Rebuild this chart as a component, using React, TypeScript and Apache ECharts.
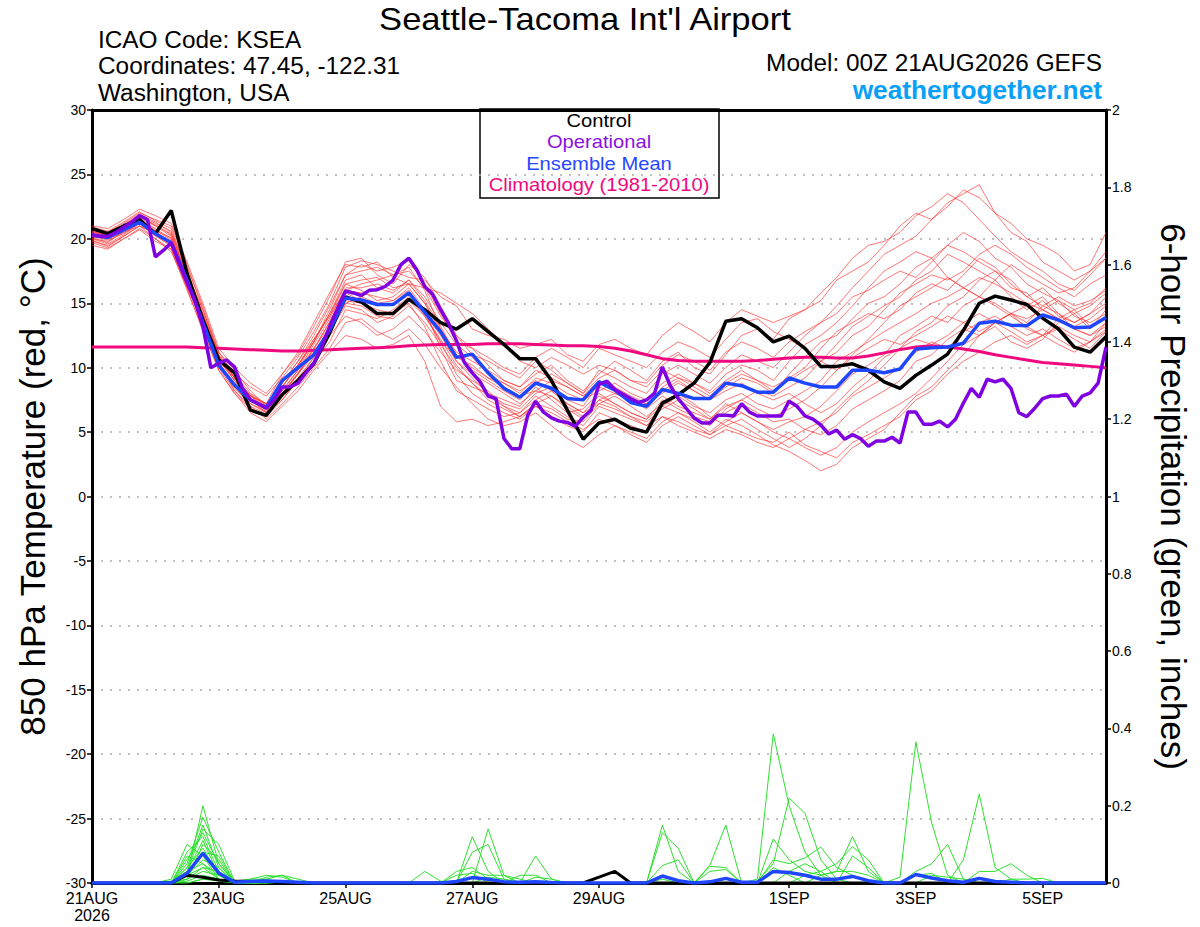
import React, { useEffect, useRef } from "react";
import * as echarts from "echarts";

// ---------- tick labels ----------
const X_TICK_HOURS = [0, 48, 96, 144, 192, 264, 312, 360];
const X_TICK_LABELS = ["21AUG\n2026", "23AUG", "25AUG", "27AUG", "29AUG", "1SEP", "3SEP", "5SEP"];

// ---------- time grid (hours after 00Z 21AUG) ----------
const STEP_HOURS = 6;
const OP_STEP_HOURS = 3;

// ---------- control (black) 850 hPa temperature ----------
const CONTROL = [
  20.8, 20.4, 21.0, 21.5, 20.4, 22.2, 17.3, 13.7, 10.6, 9.6, 6.7, 6.3, 7.9, 9.0, 10.3, 12.7, 15.5,
  15.1, 14.2, 14.2, 15.3, 14.5, 13.5, 13.0, 13.8, 12.8, 11.8, 10.7, 10.7, 9.0, 6.7, 4.45, 5.7,
  6.0, 5.3, 5.0, 7.25, 7.9, 8.8, 10.4, 13.6, 13.8, 13.1, 12.0, 12.45, 11.5, 10.1, 10.1, 10.3,
  9.8, 8.9, 8.4, 9.4, 10.2, 11.05, 12.9, 15.0, 15.55, 15.25, 14.9, 13.85, 13.0, 11.6, 11.2, 12.4,
];

// ---------- ensemble mean (blue) ----------
const ENS_MEAN = [
  20.3, 20.1, 20.7, 21.3, 20.4, 19.7, 16.8, 13.5, 10.2, 8.65, 7.5, 6.9, 9.0, 10.0, 11.0, 12.9, 15.4,
  15.25, 14.9, 14.9, 15.8, 14.3, 12.8, 10.8, 11.05, 9.6, 8.4, 7.7, 8.8, 8.4, 7.6, 7.5, 8.9,
  8.25, 7.3, 7.0, 8.3, 8.0, 7.6, 7.6, 8.8, 8.6, 8.1, 8.1, 9.2, 8.8, 8.5, 8.5, 9.8,
  9.8, 9.6, 9.9, 11.45, 11.55, 11.6, 11.9, 13.45, 13.6, 13.3, 13.25, 14.1, 13.7, 13.1, 13.15, 13.9,
];

// ---------- climatology 1981-2010 (pink) ----------
const CLIMO = [
  11.6, 11.6, 11.6, 11.6, 11.6, 11.6, 11.6, 11.55, 11.5, 11.45, 11.4, 11.35, 11.3, 11.3, 11.35, 11.4, 11.45,
  11.5, 11.55, 11.6, 11.7, 11.75, 11.8, 11.8, 11.8, 11.85, 11.85, 11.85, 11.8, 11.75, 11.7, 11.7, 11.65,
  11.5, 11.3, 11.0, 10.7, 10.55, 10.5, 10.5, 10.5, 10.5, 10.55, 10.65, 10.75, 10.8, 10.8, 10.75, 10.75,
  10.9, 11.15, 11.4, 11.6, 11.7, 11.6, 11.45, 11.25, 11.0, 10.8, 10.6, 10.4, 10.3, 10.2, 10.1, 10.0,
];

// ---------- operational GFS (purple), 3-hourly ----------
const OPERATIONAL = [
  20.3, 20.2, 20.2, 20.5, 20.9, 21.3, 21.8, 21.5, 18.6, 19.1, 19.7, 18.1, 16.6, 15.2, 13.2, 10.0,
  10.35, 10.6, 10.05, 8.4, 7.5, 7.2, 6.85, 7.5, 8.5, 8.5, 8.8, 9.6, 10.35, 11.6, 13.2, 14.6,
  15.95, 15.8, 15.6, 16.0, 16.05, 16.3, 16.8, 18.0, 18.5, 17.6, 16.3, 15.7, 14.5, 13.45, 12.1, 10.4,
  9.6, 8.9, 7.8, 7.6, 4.5, 3.7, 3.7, 6.3, 7.4, 6.55, 6.1, 5.85, 5.75, 5.45, 6.15, 6.7,
  8.7, 8.95, 8.3, 7.95, 7.6, 7.3, 7.5, 8.0, 10.05, 8.6, 7.6, 6.85, 6.1, 5.7, 5.7, 6.3,
  6.3, 6.25, 7.2, 6.55, 6.25, 6.25, 6.25, 6.25, 7.4, 7.0, 6.25, 6.0, 5.55, 4.85, 5.15, 4.45,
  4.8, 4.5, 3.9, 4.3, 4.3, 4.6, 4.15, 6.55, 6.55, 5.6, 5.6, 5.85, 5.4, 6.0, 7.25, 8.4,
  7.7, 9.1, 8.9, 9.1, 8.4, 6.5, 6.2, 6.85, 7.6, 7.8, 7.8, 7.95, 7.0, 7.8, 8.05, 8.8,
  11.6,
];

// ---------- ensemble members (red) ----------
const M01 = [20.5,20.3,21.0,21.8,21.2,20.6,17.5,14.0,10.8,9.2,7.8,7.2,8.5,10.2,12.0,14.5,17.2,
  18.0,17.5,17.8,18.3,16.5,14.2,12.0,11.5,10.2,9.0,8.5,9.5,10.2,9.0,8.2,9.5,
  10.5,9.8,9.0,10.5,11.2,10.0,9.5,11.0,12.5,13.0,12.2,13.8,14.5,15.2,16.8,17.5,
  18.2,19.5,21.0,22.0,21.5,22.8,23.5,24.2,22.0,20.5,19.8,18.2,17.5,16.8,17.5,19.0];
const M02 = [20.0,19.8,20.5,21.0,20.0,19.2,16.0,13.0,9.8,8.0,6.8,6.2,7.5,9.0,10.5,12.0,14.5,
  14.2,13.8,14.5,15.5,14.0,12.0,9.5,8.0,7.2,6.5,6.0,7.0,6.2,5.5,5.0,6.5,
  6.0,5.5,5.0,6.2,5.8,5.2,4.8,5.5,5.0,4.5,4.2,5.0,4.0,3.5,3.0,4.2,
  4.8,5.5,6.2,7.5,8.2,9.5,10.5,11.2,12.0,12.5,11.8,12.5,13.0,12.2,11.5,12.8];
const M03 = [20.8,20.5,21.2,22.0,21.5,21.0,18.0,14.5,11.2,9.8,8.2,7.0,8.0,9.5,11.5,13.5,16.0,
  16.5,16.8,17.2,17.8,16.0,13.0,11.0,10.0,9.2,8.5,7.8,8.2,9.0,8.5,7.8,8.5,
  8.0,7.5,7.2,8.0,8.8,8.2,7.5,8.5,9.2,8.8,8.0,9.5,10.8,12.0,12.5,13.8,
  15.0,15.5,16.5,17.8,18.5,17.0,16.2,15.5,16.8,15.5,14.5,15.2,14.0,13.5,14.2,15.5];
const M04 = [19.8,19.5,20.2,21.0,20.5,19.8,17.0,13.8,10.5,8.5,7.2,6.5,7.8,9.5,11.2,13.0,15.0,
  15.5,15.0,15.2,16.2,14.5,11.5,9.0,8.5,8.0,7.5,7.0,8.5,7.5,6.5,6.8,8.0,
  7.2,6.5,6.0,7.5,6.8,6.2,5.8,6.5,7.2,6.5,5.8,6.0,5.2,4.8,5.5,6.8,
  7.5,8.2,9.0,10.5,11.0,12.2,13.0,12.5,13.5,14.2,13.0,12.5,13.8,14.5,13.2,14.0];
const M05 = [20.6,20.2,21.0,21.5,20.8,20.0,17.2,14.2,11.0,9.5,8.5,7.8,9.2,10.8,12.8,15.0,17.8,
  18.3,18.0,17.5,17.0,16.8,15.5,14.8,13.0,12.5,12.2,11.5,11.8,12.2,11.0,10.5,11.8,
  12.2,11.5,11.0,12.5,13.5,12.8,12.0,13.5,14.5,14.0,13.5,14.0,14.5,15.8,17.0,18.5,
  19.5,19.8,20.5,21.8,22.5,23.5,22.8,21.5,20.2,19.0,18.2,17.5,16.5,16.0,17.2,18.5];
const M06 = [20.2,20.0,20.5,21.2,20.2,19.5,16.5,13.2,10.0,8.2,7.0,6.0,7.2,8.5,10.0,11.5,13.5,
  13.8,12.8,12.2,13.0,11.8,10.0,8.5,7.2,6.0,5.5,5.8,6.5,5.5,4.5,3.8,4.8,
  5.5,5.0,4.5,5.8,6.5,5.8,5.0,6.0,5.5,4.8,4.0,3.5,2.8,2.0,2.5,3.8,
  4.5,5.2,6.5,7.8,8.5,9.8,11.0,12.5,13.5,14.2,14.8,15.5,14.2,13.0,12.5,13.5];
const M07 = [21.0,20.8,21.5,22.3,21.8,21.2,18.2,15.0,11.5,10.0,8.8,8.0,9.5,11.0,13.2,15.5,18.2,
  18.5,17.2,16.5,18.0,17.0,14.8,12.5,11.0,10.5,9.8,9.2,10.5,9.8,8.8,8.0,9.8,
  9.2,8.5,8.0,9.5,10.2,9.5,8.8,10.0,11.0,10.5,10.0,11.2,12.5,13.5,14.8,16.2,
  17.5,18.8,19.5,20.2,21.5,22.5,23.8,23.2,22.0,21.2,20.0,19.5,18.8,17.5,18.0,20.5];
const M08 = [19.5,19.2,20.0,20.8,20.0,19.0,16.2,13.5,10.8,9.0,7.5,6.8,8.2,9.8,11.5,13.2,15.2,
  15.0,14.5,14.2,15.0,13.2,10.5,8.2,7.5,6.8,6.2,6.5,7.8,7.0,6.2,5.5,7.0,
  6.5,6.0,5.5,7.0,7.8,7.0,6.5,7.5,8.0,7.2,6.8,7.5,8.2,9.0,10.5,11.2,
  12.0,12.8,13.5,14.2,15.0,15.5,16.2,17.0,16.5,15.8,15.0,14.5,13.8,13.0,12.5,13.2];
const M09 = [20.4,20.0,20.8,21.6,21.0,20.2,17.0,13.5,10.2,8.8,7.5,6.5,8.8,10.5,12.2,14.0,16.5,
  16.0,15.2,15.5,16.5,15.0,12.8,10.5,9.2,8.0,7.2,6.8,8.0,8.5,7.5,7.0,8.8,
  8.2,7.5,6.8,7.8,7.0,6.5,6.0,7.2,6.5,5.8,5.2,5.8,6.2,7.0,8.2,9.5,
  10.2,11.0,12.5,13.2,14.0,13.5,14.8,15.5,15.0,14.2,13.5,14.8,15.5,14.8,15.2,16.0];
const M10 = [20.0,19.6,20.3,21.2,20.6,19.6,16.8,13.8,10.5,8.2,6.8,6.2,7.8,9.2,10.8,12.5,14.0,
  13.5,12.5,13.0,14.0,12.8,11.2,9.8,9.0,8.2,7.0,6.2,7.2,7.8,7.0,6.2,7.5,
  7.0,6.2,5.5,6.2,5.5,5.0,4.5,5.2,4.8,4.2,3.8,4.5,5.2,5.8,6.5,7.8,
  8.5,9.2,10.0,11.2,12.0,11.5,12.8,13.5,14.0,13.2,12.5,13.0,12.2,11.5,12.0,13.0];
const M11 = [20.7,20.4,21.0,21.8,21.0,20.4,17.8,14.8,11.2,9.5,8.0,7.2,9.5,11.2,13.5,15.8,18.0,
  17.8,18.2,17.0,16.5,16.2,15.8,15.0,14.2,13.0,11.8,10.5,10.0,10.8,10.2,9.5,10.2,
  9.8,9.0,8.5,9.8,9.2,8.8,8.2,9.5,10.2,9.8,9.0,10.5,11.8,12.5,13.5,14.8,
  16.2,17.5,18.2,19.0,18.5,19.5,20.5,19.8,18.5,17.8,16.5,15.8,15.2,14.5,15.0,16.2];
const M12 = [20.1,19.7,20.6,21.4,20.3,19.4,16.2,12.8,9.8,8.0,6.5,5.8,7.0,8.2,9.8,11.2,12.5,
  12.2,11.5,11.8,12.5,10.5,7.0,5.8,6.0,5.5,5.8,6.2,7.0,6.5,5.8,5.2,6.0,
  5.5,4.8,4.2,5.5,6.2,5.5,4.8,5.8,6.5,5.8,5.0,4.5,3.8,3.2,3.8,5.0,
  5.8,6.5,7.2,8.0,9.2,10.5,11.8,12.5,13.2,12.0,11.5,12.2,13.5,14.2,13.0,14.5];
const M13 = [20.9,20.6,21.3,22.1,21.4,20.8,17.6,14.2,10.9,9.2,7.8,7.0,8.5,10.0,12.0,14.2,16.8,
  17.2,16.2,15.8,16.8,15.5,13.5,11.8,10.8,9.5,8.8,8.0,9.2,8.8,8.0,7.5,8.2,
  8.8,8.0,7.5,8.8,9.5,8.8,8.0,9.0,9.8,9.0,8.5,9.2,10.0,11.5,12.8,13.5,
  14.2,13.8,14.5,15.8,16.5,16.0,17.2,18.5,17.8,16.5,15.5,16.2,15.0,14.2,14.8,15.8];
const M14 = [19.9,19.4,20.2,21.0,20.4,19.7,16.8,13.6,10.4,8.6,7.0,6.4,7.5,9.0,10.8,12.8,15.0,
  14.8,14.0,13.8,14.8,13.5,11.8,10.0,8.8,7.8,7.0,6.5,7.5,8.2,7.2,6.5,7.2,
  7.8,7.0,6.2,7.2,8.0,7.2,6.2,5.5,6.0,5.2,4.5,3.8,4.5,5.5,6.8,8.0,
  9.0,10.2,11.5,12.8,13.5,14.8,15.5,16.8,17.5,16.2,15.8,14.5,13.8,13.2,13.8,14.8];
const M15 = [20.3,20.1,20.9,21.7,21.1,20.3,17.4,14.0,10.6,9.0,7.8,6.8,8.2,9.8,11.8,13.8,16.2,
  16.2,16.5,16.0,16.8,15.2,13.2,11.0,9.8,9.0,8.2,7.5,8.8,9.5,8.8,8.0,9.2,
  9.8,9.0,8.8,10.2,11.0,10.5,9.8,11.2,12.0,11.5,10.8,12.0,12.8,13.5,14.2,15.5,
  16.0,16.8,17.5,17.0,18.2,19.5,19.0,18.2,17.5,16.8,15.5,14.8,14.2,13.5,14.2,15.0];
const M16 = [20.5,20.2,20.7,21.5,20.7,19.9,16.6,13.2,10.2,8.4,7.2,6.6,8.0,9.5,11.0,12.8,14.8,
  14.5,13.5,14.0,15.2,14.0,12.2,10.2,8.8,7.5,6.8,6.2,7.2,6.8,6.0,5.8,7.2,
  6.8,6.2,5.8,6.8,7.5,6.8,6.0,7.0,7.5,6.8,6.2,6.8,7.5,8.5,9.8,10.8,
  11.5,12.2,11.8,12.5,13.2,14.0,13.5,12.8,13.5,14.2,13.8,14.5,15.2,14.0,13.5,14.2];
const M17 = [20.2,19.9,20.4,21.3,20.5,19.8,17.2,14.5,11.0,9.2,7.8,7.2,8.8,10.2,12.2,14.0,16.0,
  15.8,15.5,15.2,16.0,14.2,12.0,10.8,10.2,9.2,8.8,8.2,9.0,8.2,7.2,6.5,7.8,
  7.2,6.5,6.0,7.0,6.5,6.0,5.5,6.8,7.5,8.2,7.8,8.5,9.2,10.5,11.8,13.2,
  14.0,14.8,15.5,16.8,17.5,18.8,18.2,17.5,16.8,18.0,17.2,16.5,15.8,16.2,17.5,18.5];
const M18 = [20.6,20.3,21.1,21.9,21.3,20.5,17.0,13.8,10.6,9.0,7.6,6.9,8.5,10.2,12.0,14.2,16.5,
  16.8,17.0,16.2,16.5,15.0,13.0,11.2,10.5,9.8,9.0,8.5,9.8,9.2,8.5,7.8,9.0,
  8.5,7.8,7.2,8.2,9.0,8.2,7.5,8.2,8.8,8.0,7.5,8.0,7.2,6.5,7.2,8.5,
  9.5,10.8,11.5,12.2,11.8,12.5,13.5,14.2,13.5,12.8,12.0,12.5,13.2,12.5,12.0,12.8];
const M19 = [19.7,19.3,20.0,20.7,19.8,19.2,16.4,13.4,10.3,8.7,7.4,6.7,8.0,9.6,11.4,13.6,15.8,
  15.2,14.8,15.0,15.8,14.2,12.5,10.5,9.5,8.8,8.0,7.2,8.2,7.8,6.8,6.0,7.5,
  8.0,7.5,7.0,8.5,9.2,8.5,7.8,8.8,9.5,9.0,8.2,9.0,9.8,10.5,11.2,12.5,
  13.2,14.5,15.8,16.5,17.2,16.8,17.5,18.8,19.5,18.8,17.8,17.0,16.2,15.5,16.5,17.2];
const M20 = [20.4,20.0,20.6,21.4,20.6,20.1,17.2,14.0,10.8,9.2,7.9,7.1,8.8,10.5,12.5,14.8,17.2,
  17.5,17.8,17.2,17.5,16.2,14.0,12.5,11.5,10.8,10.0,9.5,10.8,11.5,10.8,10.0,11.5,
  11.0,10.5,10.0,11.2,12.0,11.5,10.8,12.2,13.5,13.8,12.8,12.2,11.5,10.5,9.8,11.0,
  12.2,13.5,14.8,15.5,16.2,17.0,16.2,15.5,14.8,14.0,13.2,12.5,11.8,11.2,12.0,13.5];
const TEMP_MEMBERS = [M01,M02,M03,M04,M05,M06,M07,M08,M09,M10,M11,M12,M13,M14,M15,M16,M17,M18,M19,M20];

// ---------- 6-hour precipitation, inches: [hour, value]; every other 6-h step reads 0 ----------
const P01 = [[36,0.02],[42,0.2],[48,0.05],[144,0.12],[150,0.03],[240,0.01],[318,0.02],[324,0.015],[330,0.01]];
const P02 = [[36,0.05],[42,0.17],[48,0.08],[150,0.14],[156,0.02],[252,0.01],[258,0.386],[264,0.2],[270,0.08],[276,0.02]];
const P03 = [[30,0.005],[36,0.03],[42,0.14],[48,0.1],[54,0.005],[60,0.01],[66,0.02],[72,0.015],[144,0.08],[150,0.1],[156,0.01],[252,0.005],[258,0.05],[264,0.22],[270,0.18],[276,0.06],[282,0.01]];
const P04 = [[36,0.08],[42,0.12],[48,0.03],[126,0.03],[132,0.005],[216,0.01]];
const P05 = [[36,0.01],[42,0.1],[48,0.06],[138,0.03],[144,0.04],[150,0.01],[258,0.114],[264,0.06],[270,0.03],[276,0.02],[282,0.03],[288,0.12],[294,0.03]];
const P06 = [[36,0.04],[42,0.09],[48,0.02],[168,0.07],[174,0.01],[258,0.06],[264,0.05],[270,0.065],[276,0.093],[282,0.04],[288,0.02]];
const P07 = [[30,0.01],[36,0.1],[42,0.07],[48,0.01],[66,0.015],[72,0.02],[78,0.01],[144,0.03],[150,0.02],[156,0.02],[162,0.01],[264,0.03],[270,0.05],[276,0.03],[282,0.05],[288,0.094],[294,0.06]];
const P08 = [[36,0.02],[42,0.06],[48,0.04],[60,0.01],[66,0.01],[162,0.02],[168,0.02],[306,0.015],[312,0.365],[318,0.155],[324,0.02]];
const P09 = [[36,0.03],[42,0.05],[48,0.02],[138,0.02],[144,0.025],[258,0.04],[264,0.02],[288,0.07],[294,0.04]];
const P10 = [[36,0.01],[42,0.04],[48,0.01],[216,0.15],[222,0.03],[312,0.03],[318,0.05],[324,0.1],[330,0.01]];
const P11 = [[36,0.06],[42,0.13],[48,0.05],[54,0.005],[216,0.13],[222,0.09]];
const P12 = [[36,0.02],[42,0.08],[48,0.07],[66,0.01],[72,0.02],[276,0.02],[282,0.03],[288,0.03],[294,0.02]];
const P13 = [[36,0.01],[42,0.03],[48,0.02],[150,0.015],[156,0.01],[270,0.02],[276,0.03]];
const P14 = [[36,0.005],[42,0.02],[48,0.01],[168,0.015],[174,0.01],[330,0.06],[336,0.23],[342,0.04],[348,0.01]];
const P15 = [[36,0.03],[42,0.11],[48,0.02],[216,0.045],[222,0.06]];
const P16 = [[42,0.01],[48,0.005],[234,0.046],[240,0.15]];
const P17 = [[36,0.07],[42,0.05],[48,0.01],[234,0.043],[240,0.04]];
const P18 = [[36,0.02],[42,0.04],[48,0.03],[234,0.03],[240,0.035]];
const P19 = [[36,0.04],[42,0.15],[48,0.04],[312,0.02],[318,0.025],[336,0.03],[342,0.03],[348,0.05],[354,0.02]];
const P20 = [[42,0.01],[48,0.01],[348,0.01],[354,0.01],[360,0.012]];
const PRECIP_MEMBERS = [P01,P02,P03,P04,P05,P06,P07,P08,P09,P10,P11,P12,P13,P14,P15,P16,P17,P18,P19,P20];

const PRECIP_MEAN = [[36,0.025],[42,0.077],[48,0.026],[54,0.002],[60,0.004],[66,0.005],[72,0.004],[78,0.002],
  [138,0.004],[144,0.014],[150,0.01],[156,0.003],[162,0.002],[168,0.003],[174,0.001],
  [216,0.018],[222,0.006],[234,0.003],[240,0.012],[246,0.002],[252,0.002],[258,0.03],[264,0.027],[270,0.02],
  [276,0.01],[282,0.01],[288,0.017],[294,0.006],[312,0.022],[318,0.013],[324,0.006],[330,0.002],[336,0.012],[342,0.004],[348,0.002]];
const PRECIP_CONTROL = [[36,0.02],[42,0.015],[48,0.008],[54,0.005],[60,0.004],[66,0.003],[192,0.015],[198,0.03]];

const FONT = "'Liberation Sans', Arial, Helvetica, sans-serif";

function toPairs(vals: number[], step: number) {
  return vals.map((v, i) => [i * step, v]);
}
function precipPairs(events: number[][]) {
  const n = Math.round(384 / STEP_HOURS) + 1;
  const out: number[][] = [];
  for (let i = 0; i < n; i++) {
    const h = i * STEP_HOURS;
    const e = events.find((p) => p[0] === h);
    out.push([h, e ? e[1] : 0]);
  }
  return out;
}

export default function App() {
  const ref = useRef<HTMLDivElement>(null);
  useEffect(() => {
    document.body.style.margin = "0";
    if (!ref.current) return;
    const chart = echarts.init(ref.current, undefined, { renderer: "svg" });

    const series: any[] = [];
    PRECIP_MEMBERS.forEach((p, k) => {
      series.push({
        name: "precip" + (k + 1), type: "line", yAxisIndex: 1, data: precipPairs(p),
        showSymbol: false, symbol: "none", silent: true,
        lineStyle: { color: "#2ee02e", width: 1 },
      });
    });
    TEMP_MEMBERS.forEach((m, k) => {
      series.push({
        name: "member" + (k + 1), type: "line", yAxisIndex: 0, data: toPairs(m, STEP_HOURS),
        showSymbol: false, symbol: "none", silent: true,
        lineStyle: { color: "rgba(255,45,45,0.65)", width: 1 },
      });
    });
    series.push({
      name: "Climatology", type: "line", data: toPairs(CLIMO, STEP_HOURS), symbol: "none", silent: true,
      lineStyle: { color: "#f0087f", width: 3 },
    });
    series.push({
      name: "ControlPrecip", type: "line", yAxisIndex: 1, data: precipPairs(PRECIP_CONTROL), symbol: "none", silent: true,
      lineStyle: { color: "#000", width: 3 },
    });
    series.push({
      name: "MeanPrecip", type: "line", yAxisIndex: 1, data: precipPairs(PRECIP_MEAN), symbol: "none", silent: true,
      lineStyle: { color: "#1e46ff", width: 3.5 },
    });
    series.push({
      name: "Control", type: "line", data: toPairs(CONTROL, STEP_HOURS), symbol: "none", silent: true,
      lineStyle: { color: "#000", width: 3.5 },
    });
    series.push({
      name: "Ensemble Mean", type: "line", data: toPairs(ENS_MEAN, STEP_HOURS), symbol: "none", silent: true,
      lineStyle: { color: "#1e46ff", width: 3.5 },
    });
    series.push({
      name: "Operational", type: "line", data: toPairs(OPERATIONAL, OP_STEP_HOURS), symbol: "none", silent: true,
      lineStyle: { color: "#7f00e0", width: 3.5 },
    });

    const legendRows = [
      { t: "Control", c: "#000000" },
      { t: "Operational", c: "#8a10e0" },
      { t: "Ensemble Mean", c: "#2646ff" },
      { t: "Climatology (1981-2010)", c: "#f0087f" },
    ];

    chart.setOption({
      animation: false,
      backgroundColor: "#ffffff",
      textStyle: { fontFamily: FONT },
      grid: { left: 92, right: 94, top: 110, bottom: 44, containLabel: false },
      xAxis: [
        {
          type: "value", min: 0, max: 384, position: "bottom",
          axisLine: { show: true, onZero: false, lineStyle: { color: "#000", width: 3 } },
          axisTick: { show: true, customValues: X_TICK_HOURS, length: 5, lineStyle: { color: "#000", width: 1.5 } },
          axisLabel: {
            show: true, customValues: X_TICK_HOURS, color: "#000", fontSize: 16, fontFamily: FONT, lineHeight: 17, margin: 7,
            formatter: (v: number) => { const i = X_TICK_HOURS.indexOf(v); return i >= 0 ? X_TICK_LABELS[i] : ""; },
          },
          splitLine: { show: false },
        },
        {
          type: "value", min: 0, max: 384, position: "top",
          axisLine: { show: true, onZero: false, lineStyle: { color: "#000", width: 3 } },
          axisTick: { show: false }, axisLabel: { show: false }, splitLine: { show: false },
        },
      ],
      yAxis: [
        {
          type: "value", min: -30, max: 30, interval: 5, position: "left",
          name: "850 hPa Temperature (red, °C)", nameLocation: "middle", nameGap: 42,
          nameTextStyle: { fontSize: 35, color: "#000", fontFamily: FONT },
          axisLine: { show: true, onZero: false, lineStyle: { color: "#000", width: 3 } },
          axisTick: { show: true, length: 5, lineStyle: { color: "#000", width: 1.5 } },
          axisLabel: { color: "#000", fontSize: 14, fontFamily: FONT, margin: 6 },
          splitLine: { show: true, lineStyle: { color: "#aaaaaa", type: [2, 7], width: 1.5 } },
        },
        {
          type: "value", min: 0, max: 2, interval: 0.2, position: "right",
          name: "6-hour Precipitation (green, inches)", nameLocation: "middle", nameGap: 50, nameRotate: -90,
          nameTextStyle: { fontSize: 35, color: "#000", fontFamily: FONT },
          axisLine: { show: true, onZero: false, lineStyle: { color: "#000", width: 3 } },
          axisTick: { show: true, length: 5, lineStyle: { color: "#000", width: 1.5 } },
          axisLabel: { color: "#000", fontSize: 14, fontFamily: FONT, margin: 6, formatter: (v: number) => String(+v.toFixed(1)) },
          splitLine: { show: false },
        },
      ],
      series,
      graphic: [
        { type: "text", x: 585, y: 19, scaleX: 1.08, style: { text: "Seattle-Tacoma Int'l Airport", font: `32px ${FONT}`, fill: "#000", textAlign: "center", textVerticalAlign: "middle" } },
        { type: "text", x: 98, y: 40, scaleX: 1.06, style: { text: "ICAO Code: KSEA", font: `23px ${FONT}`, fill: "#000", textVerticalAlign: "middle" } },
        { type: "text", x: 98, y: 66, scaleX: 1.06, style: { text: "Coordinates: 47.45, -122.31", font: `23px ${FONT}`, fill: "#000", textVerticalAlign: "middle" } },
        { type: "text", x: 98, y: 93, scaleX: 1.06, style: { text: "Washington, USA", font: `23px ${FONT}`, fill: "#000", textVerticalAlign: "middle" } },
        { type: "text", x: 1102, y: 63, scaleX: 1.06, style: { text: "Model: 00Z 21AUG2026 GEFS", font: `23px ${FONT}`, fill: "#000", textAlign: "right", textVerticalAlign: "middle" } },
        { type: "text", x: 1102, y: 90, scaleX: 1.05, style: { text: "weathertogether.net", font: `bold 25px ${FONT}`, fill: "#0aa0f7", textAlign: "right", textVerticalAlign: "middle" } },
        {
          type: "group", z: 100,
          children: [
            { type: "rect", shape: { x: 480, y: 109, width: 239, height: 89 }, style: { fill: "#fff", stroke: "#000", lineWidth: 1.5 } },
            ...legendRows.map((r, i) => ({
              type: "text", x: 599, y: 121 + i * 21.3, scaleX: 1.12,
              style: { text: r.t, font: `18px ${FONT}`, fill: r.c, textAlign: "center", textVerticalAlign: "middle" },
            })),
          ],
        },
      ],
    });
    return () => chart.dispose();
  }, []);
  return <div ref={ref} style={{ width: 1200, height: 927 }} />;
}
